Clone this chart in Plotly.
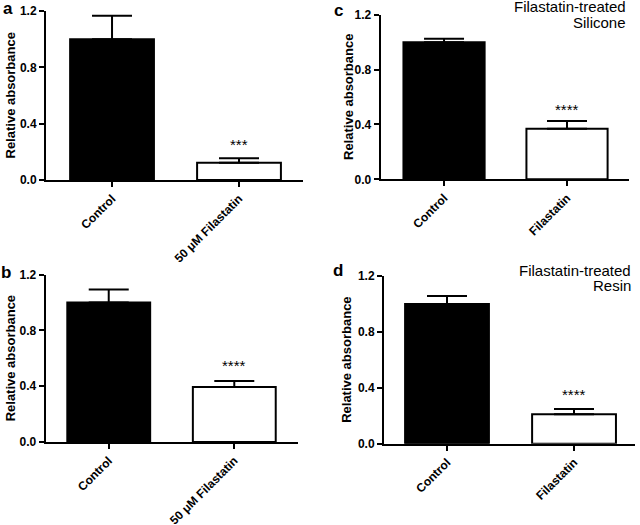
import plotly.graph_objects as go

# ---- data ----
panel_letters = ["a", "b", "c", "d"]
cats_ab = ["Control", "50 μM Filastatin"]
cats_cd = ["Control", "Filastatin"]
vals_a = [1.0, 0.123]
err_a = [0.167, 0.031]
vals_b = [1.0, 0.395]
err_b = [0.093, 0.043]
vals_c = [1.0, 0.369]
err_c = [0.025, 0.056]
vals_d = [1.0, 0.21]
err_d = [0.057, 0.038]
stars = ["***", "****", "****", "****"]
title_lines = [[], [], ["Filastatin-treated", "Silicone"], ["Filastatin-treated", "Resin"]]
y_ticks = [0.0, 0.4, 0.8, 1.2]

W, H = 640, 525

def px(x):
    return x / W

def py(y):
    return 1 - y / H

# panel geometry (pixels): x0, x1, y_top(1.2), y_bottom(0), xrange
geom = [
    (46, 303, 11, 180, [-0.52, 1.504]),
    (45.7, 297.7, 274.7, 442, [-0.502, 1.505]),
    (380.7, 629, 14.7, 179.3, [-0.515, 1.504]),
    (384, 635, 276, 443.7, [-0.496, 1.48]),
]
panels = [
    (cats_ab, vals_a, err_a),
    (cats_ab, vals_b, err_b),
    (cats_cd, vals_c, err_c),
    (cats_cd, vals_d, err_d),
]
letter_pos = [(8, 9), (6, 272), (338, 10), (338, 270)]
ytitle_x = [10, 10, 348, 347]
star_y = [0.272, 0.567, 0.534, 0.37]
title_right = [0, 0, 627, 632]
title_ys = [[], [], [7, 22.5], [270, 285.5]]

FONT = "Liberation Sans, Arial, sans-serif"
fig = go.Figure()
layout = dict(
    width=W, height=H,
    margin=dict(l=0, r=0, t=0, b=0, autoexpand=False),
    paper_bgcolor="white", plot_bgcolor="white",
    showlegend=False,
    font=dict(family=FONT, color="black"),
)
annotations = []

for i, ((cats, vals, errs), (x0, x1, yt, yb, xr)) in enumerate(zip(panels, geom)):
    n = "" if i == 0 else str(i + 1)
    xa, ya = "x" + n, "y" + n
    fig.add_trace(go.Bar(
        x=cats, y=vals, xaxis=xa, yaxis=ya,
        width=0.66,
        marker=dict(color=["black", "white"], line=dict(color="black", width=2)),
        error_y=dict(type="data", array=errs, arrayminus=[0, 0], symmetric=False,
                     color="black", thickness=2, width=20),
        hoverinfo="skip",
    ))
    layout["xaxis" + n] = dict(
        domain=[px(x0), px(x1)], anchor=ya, range=xr, automargin=False,
        showline=True, linecolor="black", linewidth=2,
        ticks="outside", ticklen=5, tickwidth=2, tickcolor="black",
        tickangle=-45, showgrid=False, zeroline=False,
        tickfont=dict(family=FONT, size=12, color="black", weight="bold"),
    )
    layout["yaxis" + n] = dict(
        domain=[py(yb), py(yt)], anchor=xa, range=[0, 1.2], automargin=False,
        tickvals=y_ticks, tickformat=".1f",
        showline=True, linecolor="black", linewidth=2,
        ticks="outside", ticklen=5, tickwidth=2, tickcolor="black",
        showgrid=False, zeroline=False,
        tickfont=dict(family=FONT, size=12, color="black", weight="bold"),
    )
    # axis title
    annotations.append(dict(
        text="Relative absorbance", textangle=-90,
        x=px(ytitle_x[i]), y=(py(yb) + py(yt)) / 2, xref="paper", yref="paper",
        xanchor="center", yanchor="middle", showarrow=False,
        font=dict(family=FONT, size=13, color="black", weight="bold"),
    ))
    # panel letter
    lx, ly = letter_pos[i]
    annotations.append(dict(
        text=panel_letters[i], x=px(lx), y=py(ly), xref="paper", yref="paper",
        xanchor="center", yanchor="middle", showarrow=False,
        font=dict(family=FONT, size=17, color="black", weight="bold"),
    ))
    # significance stars
    annotations.append(dict(
        text=stars[i], x=cats[1], y=star_y[i], xref=xa, yref=ya,
        xanchor="center", yanchor="middle", yshift=-3, showarrow=False,
        font=dict(family=FONT, size=15, color="black"),
    ))
    for line, ty in zip(title_lines[i], title_ys[i]):
        annotations.append(dict(
            text=line, x=px(title_right[i]), y=py(ty), xref="paper", yref="paper",
            xanchor="right", yanchor="middle", showarrow=False, borderpad=0,
            font=dict(family=FONT, size=15, color="black"),
        ))

layout["annotations"] = annotations
fig.update_layout(**layout)
fig.write_html(
    "out.html",
    config={"displayModeBar": False, "staticPlot": True},
    post_script="document.body.style.margin='0px';document.body.style.padding='0px';",
)
